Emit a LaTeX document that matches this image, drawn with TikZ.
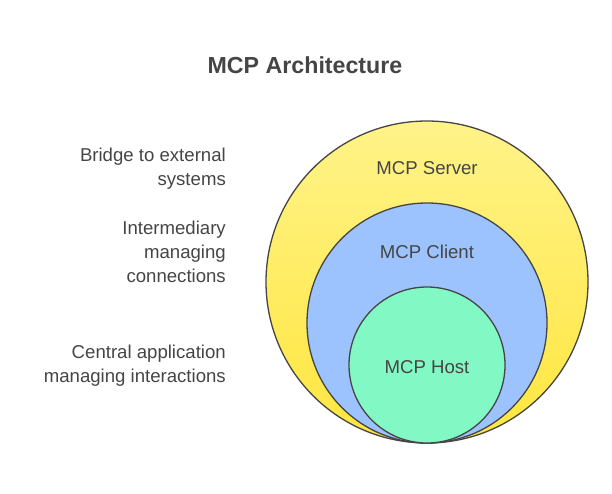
\documentclass[tikz,border=0pt]{standalone}
\usepackage{fontspec}
\setmainfont{Liberation Sans}
\usepackage{xcolor}
\usepackage{tikz}
\usetikzlibrary{positioning}

\definecolor{inkgray}{HTML}{454545}
\definecolor{serverTop}{HTML}{FFF389}
\definecolor{serverBot}{HTML}{FFE63E}
\definecolor{clientBlue}{HTML}{9DC3FF}
\definecolor{hostGreen}{HTML}{82F8C4}

\begin{document}
\begin{tikzpicture}[
    x=1pt, y=-1pt,
    ring/.style={circle, draw=inkgray, line width=1.3pt, inner sep=0pt},
    ringtext/.style={font=\fontsize{18.6}{22}\selectfont, text=inkgray},
    note/.style={align=right, anchor=east, inner sep=0pt, font=\fontsize{18.6}{24}\selectfont, text=inkgray}]
    \useasboundingbox (0,0) rectangle (612,493);
    \node[font=\fontsize{23.2}{27}\selectfont\bfseries, text=inkgray] (title) at (305,65) {MCP Architecture};
    % nested circles
    \node[ring, minimum size=322pt, top color=serverTop, bottom color=serverBot] (server) at (427,282) {};
    \node[ring, minimum size=240pt, fill=clientBlue] (client) at (427,323) {};
    \node[ring, minimum size=156pt, fill=hostGreen] (host) at (427,365) {};
    \node[ringtext] (serverlbl) at (427,168) {MCP Server};
    \node[ringtext] (clientlbl) at (427,252) {MCP Client};
    \node[ringtext] (hostlbl) at (427,367) {MCP Host};
    % descriptions
    \node[note] (servernote) at (226,169) {Bridge to external\\systems};
    \node[note] (clientnote) at (226,252) {Intermediary\\managing\\connections};
    \node[note] (hostnote) at (226,366) {Central application\\managing interactions};
\end{tikzpicture}
\end{document}
